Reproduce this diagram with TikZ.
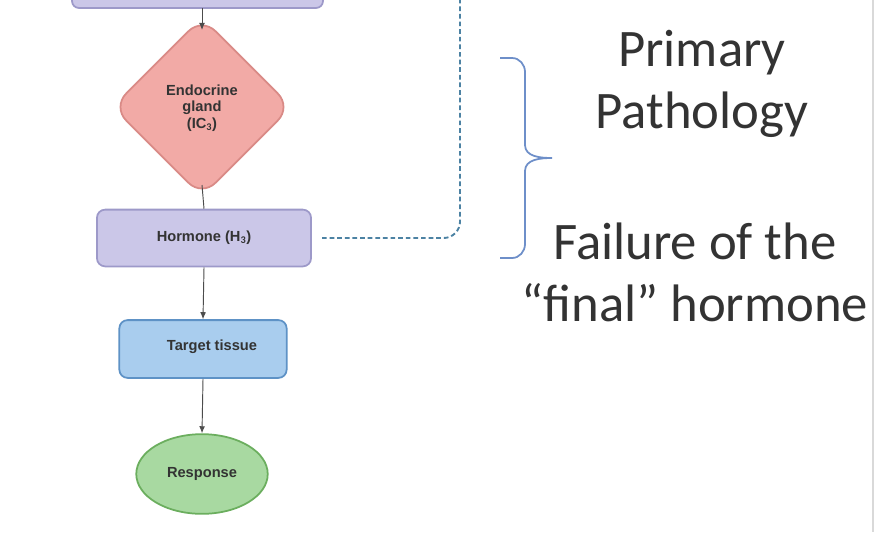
\documentclass[tikz,border=0pt]{standalone}
\usepackage{fontspec}
\setmainfont{Carlito}
\setsansfont{Liberation Sans}
\usetikzlibrary{shapes.geometric,arrows.meta}
\definecolor{lav}{HTML}{CBC7E8}\definecolor{lavd}{HTML}{9D99C9}
\definecolor{pink}{HTML}{F2AAA6}\definecolor{pinkd}{HTML}{D98A86}
\definecolor{blu}{HTML}{A9CDEE}\definecolor{blud}{HTML}{5E92C6}
\definecolor{grn}{HTML}{A8D9A1}\definecolor{grnd}{HTML}{6BAE5E}
\definecolor{dashc}{HTML}{4C82A3}\definecolor{brc}{HTML}{6E8FC9}
\begin{document}
\begin{tikzpicture}[x=0.03cm,y=-0.03cm,
  lbl/.style={font=\sffamily\bfseries\fontsize{12.5}{14}\selectfont,text=black!80},
  arr/.style={draw=black!70,line width=0.8pt,-{Latex[length=6pt,width=5pt]}},
  big/.style={font=\fontsize{45}{53}\selectfont,text=black!80,align=center}]
\useasboundingbox (0,0) rectangle (878,532);
\fill[white] (0,0) rectangle (878,532);
\draw[black!15,line width=2pt] (873,0) -- (873,532);
\begin{scope}
\clip (0,0) rectangle (878,532);
\draw[lavd,fill=lav,rounded corners=6pt,line width=1.5pt] (72,-30) rectangle (323,8);
\end{scope}
\coordinate (topb) at (202,8);
\node[diamond,draw=pinkd,fill=pink,rounded corners=16pt,minimum width=180*0.85pt,minimum height=180*0.85pt,inner sep=0pt,line width=1.5pt] (gland) at (202,107) {};
\node[lbl,align=center] (gl) at (202,108) {Endocrine\\gland\\(IC$_\mathbf{3}$)};
\node[draw=lavd,fill=lav,rounded corners=7pt,minimum width=215*0.85pt,minimum height=57*0.85pt,lbl,line width=1.5pt] (horm) at (204,238) {Hormone (H$_\mathbf{3}$)};
\node[draw=blud,fill=blu,rounded corners=7pt,minimum width=168*0.85pt,minimum height=58*0.85pt,line width=1.5pt] (tt) at (203,349) {};
\node[lbl] (ttl) at (212,347) {Target tissue};
\node[ellipse,draw=grnd,fill=grn,minimum width=132*0.85pt,minimum height=80*0.85pt,lbl,line width=1.5pt] (resp) at (202,474) {Response};
\draw[arr] (topb) -- (202,30);
\draw[draw=black!70,line width=0.8pt] (202,185) -- (horm.north);
\draw[arr] (horm.south) -- (tt.north);
\draw[arr] (tt.south) -- (resp.north);
\coordinate (dtop) at (460,0);
\coordinate (dst) at (322,238);
\draw[dashc,line width=1.6pt,dash pattern=on 4pt off 2.5pt,rounded corners=14pt] (dst) -- (460,238) -- (dtop);
\draw[brc,line width=1.5pt] (500,58) -- (512,58) to[out=0,in=90] (525,72) -- (525,145) to[out=-90,in=180] (552,158) to[out=180,in=90] (525,171) -- (525,244) to[out=-90,in=0] (512,258) -- (500,258);
\node[big] (pp) at (702,84) {Primary\\Pathology};
\node[big] (fh) at (695,272) {Failure of the\\“final” hormone};
\end{tikzpicture}
\end{document}
